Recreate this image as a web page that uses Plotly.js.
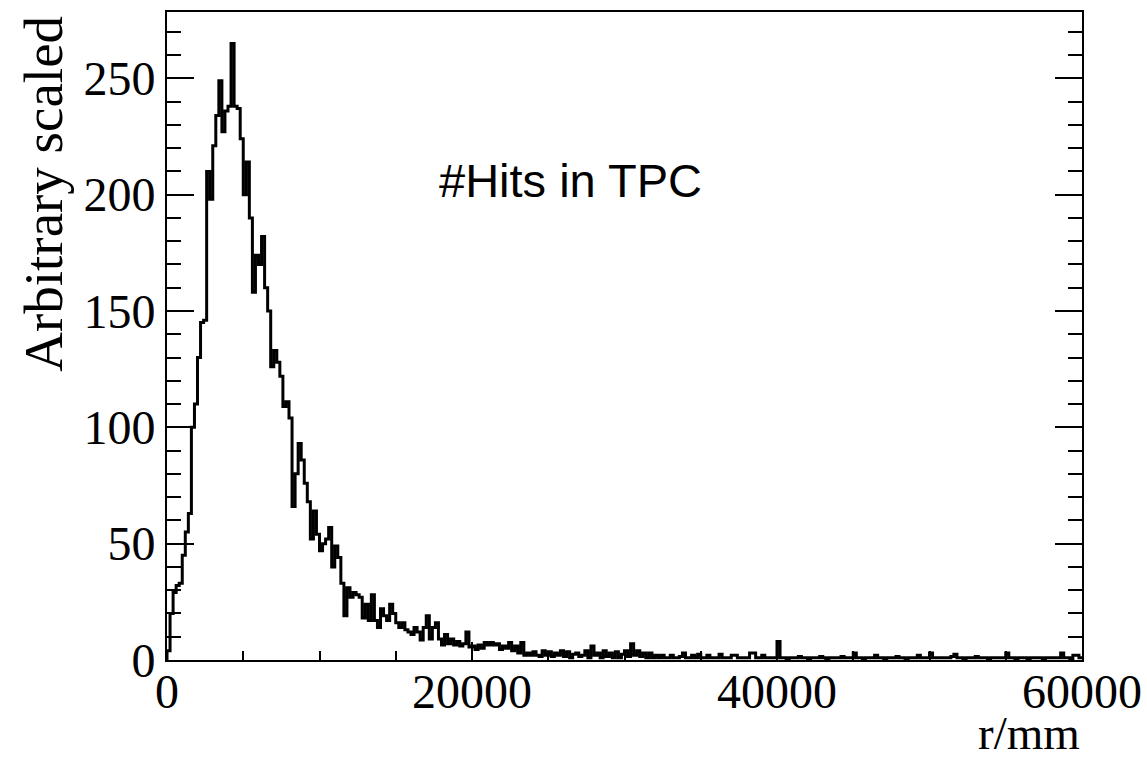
<!DOCTYPE html>
<html>
<head>
<meta charset="utf-8">
<script src="https://cdn.plot.ly/plotly-3.0.1.min.js"></script>
<style>
  html, body { margin: 0; padding: 0; background: #ffffff; }
  #chart { width: 1147px; height: 769px; }
</style>
</head>
<body>
<div id="chart"></div>
<script>
// Histogram of r (mm), bin width 200 mm, 0 - 60000 mm
const binWidth = 200;
const xMin = 0;
const xMax = 60000;

const counts = [
  4, 20, 29, 32, 33, 45, 55, 63, 100, 110,
  130, 145, 146, 210, 198, 221, 234, 249, 227, 236,
  238, 265, 238, 237, 224, 200, 214, 190, 158, 174,
  170, 182, 160, 150, 126, 133, 128, 122, 109, 111,
  104, 66, 80, 93, 86, 76, 68, 52, 64, 54,
  47, 50, 52, 57, 40, 49, 44, 33, 19, 31,
  27, 29, 28, 27, 18, 24, 17, 28, 17, 14,
  22, 19, 17, 24, 20, 16, 14, 16, 13, 12,
  11, 14, 12, 8.6, 14, 19, 9, 14, 16, 9,
  6.5, 11, 7, 9, 6.5, 8, 6, 7, 12, 5.6,
  6, 4.5, 6.5, 5, 7.5, 6.5, 7.5, 6.5, 7, 4.5,
  6, 5, 7.5, 4, 6, 3, 7.5, 2, 3, 2,
  3.5, 2, 1.5, 4, 2, 3.5, 1.5, 3, 2, 4,
  1.5, 3.5, 1, 2.5, 3, 1.5, 2, 4, 1, 6,
  2, 3, 1, 4, 1.5, 3, 1, 3.5, 1, 2.5,
  4, 1.5, 7, 2, 4, 1.5, 3, 1, 3, 1,
  2, 1, 2, 1, 1, 2, 1, 1, 1.5, 3,
  1, 1, 2, 1, 2.5, 1, 1, 2, 1, 1,
  1, 2.5, 1, 1, 1, 2, 2, 1, 1, 1,
  1, 3, 3, 1, 1, 2, 1, 1, 1, 1,
  8, 1, 1, 0.5, 1, 1, 1, 1.5, 1, 1,
  0.5, 1, 1, 1, 1.5, 1, 0.5, 1, 1, 1,
  1, 1.5, 1, 1, 1, 3, 1, 1, 0.5, 1,
  1, 1, 2, 1, 1, 0.5, 1, 1, 1, 1.5,
  1, 1, 0.5, 1, 1, 1, 2, 1, 1, 1,
  3, 1, 1, 1, 1, 1, 1, 1.5, 2.5, 1,
  1, 0.5, 1, 1, 1, 1.5, 1, 1, 1, 0.5,
  1, 1, 1, 1, 1, 3, 1, 1, 0.5, 1,
  1, 1, 0.5, 1, 1, 1, 1, 0.5, 1, 1,
  1, 1, 1, 3, 1, 1, 0.5, 2, 2, 1
];

const xTickVals = [0, 20000, 40000, 60000];
const yTickVals = [0, 50, 100, 150, 200, 250];
const yMax = 278.5;

const labelText = "#Hits in TPC";
const xTitle = "r/mm";
const yTitle = "Arbitrary scaled";

// Build step-line coordinates from bin edges
const xs = [];
const ys = [];
xs.push(xMin); ys.push(0);
for (let i = 0; i < counts.length; i++) {
  xs.push(xMin + i * binWidth);
  ys.push(counts[i]);
}
xs.push(xMin + counts.length * binWidth);
ys.push(counts[counts.length - 1]);

const trace = {
  type: 'scatter',
  mode: 'lines',
  x: xs,
  y: ys,
  line: { shape: 'hv', color: '#000000', width: 3 },
  hoverinfo: 'skip'
};

const serif = 'Liberation Serif, Times New Roman, serif';

const layout = {
  width: 1147,
  height: 769,
  margin: { l: 167, r: 65, t: 12, b: 109, pad: 0 },
  paper_bgcolor: '#ffffff',
  plot_bgcolor: '#ffffff',
  showlegend: false,
  xaxis: {
    range: [xMin, xMax],
    tickmode: 'array',
    tickvals: xTickVals,
    ticktext: xTickVals.map(v => String(v)),
    ticks: 'inside',
    ticklen: 18,
    tickwidth: 2,
    tickcolor: '#000000',
    ticklabelstandoff: -12,
    showline: true,
    linewidth: 2,
    linecolor: '#000000',
    mirror: true,
    showgrid: false,
    zeroline: false,
    tickfont: { family: serif, size: 48, color: '#000000' },
    minor: { dtick: 5000, tick0: 0, ticks: 'inside', ticklen: 9, tickwidth: 2, tickcolor: '#000000', showgrid: false }
  },
  yaxis: {
    range: [0, yMax],
    tickmode: 'array',
    tickvals: yTickVals,
    ticktext: yTickVals.map(v => String(v)),
    ticks: 'inside',
    ticklen: 27,
    tickwidth: 2,
    tickcolor: '#000000',
    showline: true,
    linewidth: 2,
    linecolor: '#000000',
    mirror: 'ticks',
    showgrid: false,
    zeroline: false,
    tickfont: { family: serif, size: 48, color: '#000000' },
    minor: { dtick: 10, tick0: 0, ticks: 'inside', ticklen: 14, tickwidth: 2, tickcolor: '#000000', showgrid: false }
  },
  annotations: [
    {
      text: labelText,
      xref: 'x', yref: 'y',
      x: 17700, y: 206,
      xanchor: 'left', yanchor: 'middle',
      showarrow: false,
      font: { family: 'Liberation Sans, Arial, sans-serif', size: 47, color: '#000000' }
    },
    {
      text: yTitle,
      xref: 'paper', yref: 'paper',
      x: -0.135, y: 0.998,
      xanchor: 'center', yanchor: 'top',
      textangle: -90,
      showarrow: false,
      font: { family: serif, size: 55, color: '#000000' }
    },
    {
      text: xTitle,
      xref: 'paper', yref: 'paper',
      x: 1.0, y: -0.112,
      xanchor: 'right', yanchor: 'middle',
      showarrow: false,
      font: { family: serif, size: 47, color: '#000000' }
    }
  ]
};

Plotly.newPlot('chart', [trace], layout, { staticPlot: true, displayModeBar: false });
</script>
</body>
</html>
